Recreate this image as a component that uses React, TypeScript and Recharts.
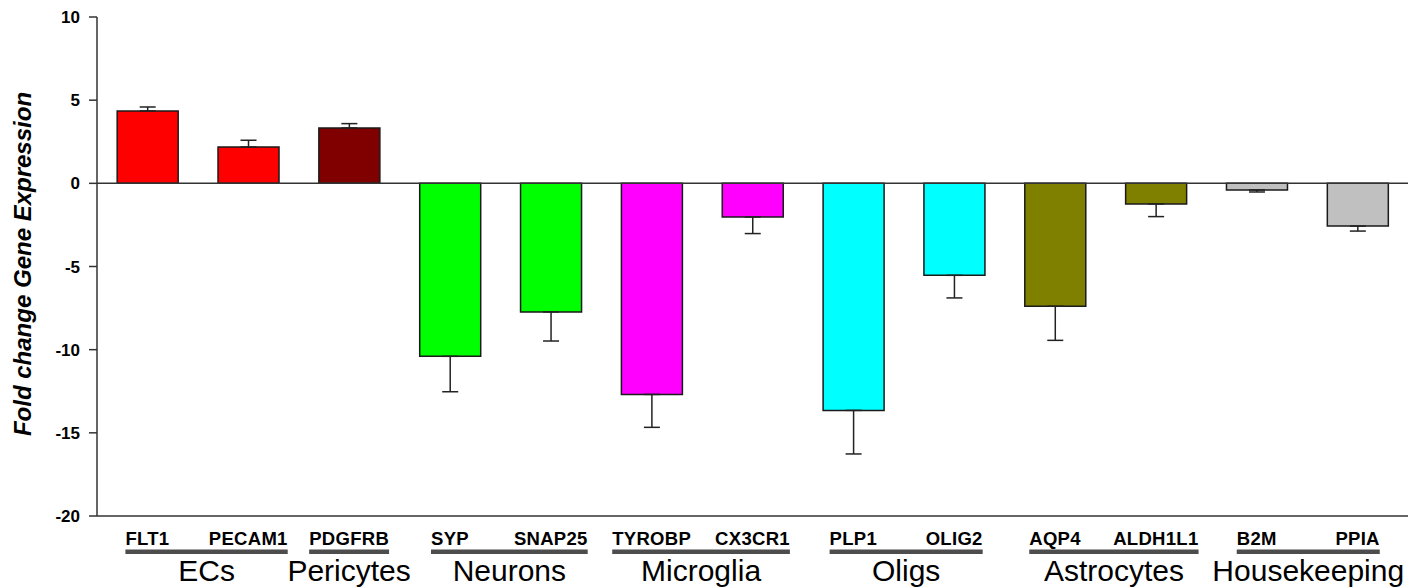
import { BarChart, Bar, Cell, ErrorBar, XAxis, YAxis, ReferenceLine } from "recharts";

const genes = ["FLT1", "PECAM1", "PDGFRB", "SYP", "SNAP25", "TYROBP", "CX3CR1", "PLP1", "OLIG2", "AQP4", "ALDH1L1", "B2M", "PPIA"];
const foldChange = [4.35, 2.18, 3.33, -10.4, -7.73, -12.69, -2.02, -13.65, -5.53, -7.39, -1.24, -0.4, -2.57];
const sem = [0.24, 0.41, 0.26, 2.13, 1.75, 1.98, 1.0, 2.62, 1.36, 2.05, 0.76, 0.12, 0.3];
const barColors = ["#ff0000", "#ff0000", "#800000", "#00ff00", "#00ff00", "#ff00ff", "#ff00ff", "#00ffff", "#00ffff", "#808000", "#808000", "#c0c0c0", "#c0c0c0"];
const groupNames = ["ECs", "Pericytes", "Neurons", "Microglia", "Oligs", "Astrocytes", "Housekeeping"];
const groupSizes = [2, 1, 2, 2, 2, 2, 2];
const yTicks = [-20, -15, -10, -5, 0, 5, 10];

const W = 1424;
const H = 588;
const MARGIN = { top: 17, right: 16, left: 0, bottom: 0 };
const Y_AXIS_W = 97;
const BAND = (W - MARGIN.left - MARGIN.right - Y_AXIS_W) / genes.length;
const FONT = "'Liberation Sans', Arial, sans-serif";

// error bars only point away from zero
const data = genes.map((g, i) => ({
  gene: g,
  value: foldChange[i],
  err: foldChange[i] >= 0 ? [0, sem[i]] : [sem[i], 0],
}));

// index of first gene in each group
const groupStarts: number[] = [];
groupSizes.reduce((acc, n) => {
  groupStarts.push(acc);
  return acc + n;
}, 0);

let ctx: CanvasRenderingContext2D | null = null;
function geneWidth(s: string) {
  if (!ctx) ctx = document.createElement("canvas").getContext("2d");
  if (!ctx) return s.length * 11;
  ctx.font = `bold 18.5px ${FONT}`;
  return ctx.measureText(s).width + s.length * 0.3;
}

function GeneTick(props: any) {
  const { x, y, payload } = props;
  const i = genes.indexOf(payload.value);
  const gi = groupStarts.indexOf(i);
  let group = null;
  if (gi >= 0) {
    const last = i + groupSizes[gi] - 1;
    const x0 = x - geneWidth(genes[i]) / 2;
    const x1 = x + (last - i) * BAND + geneWidth(genes[last]) / 2;
    group = (
      <g>
        <rect x={x0} y={y + 33.5} width={x1 - x0} height={4.5} fill="#4d4d4d" />
        <text
          x={(x0 + x1) / 2}
          y={y + 65}
          textAnchor="middle"
          fontFamily={FONT}
          fontSize={30}
          fill="#000"
        >
          {groupNames[gi]}
        </text>
      </g>
    );
  }
  return (
    <g>
      <text
        x={x}
        y={y + 29}
        textAnchor="middle"
        fontFamily={FONT}
        fontWeight="bold"
        fontSize={18.5}
        letterSpacing={0.3}
        fill="#000"
      >
        {payload.value}
      </text>
      {group}
    </g>
  );
}

function ValueTick(props: any) {
  const { x, y, payload } = props;
  return (
    <text
      x={x}
      y={y}
      dy="0.36em"
      textAnchor="end"
      fontFamily={FONT}
      fontWeight="bold"
      fontSize={17}
      fill="#000"
    >
      {payload.value}
    </text>
  );
}

export default function App() {
  return (
    <div style={{ position: "absolute", left: 0, top: 0, background: "#fff" }}>
      <BarChart width={W} height={H} data={data} margin={MARGIN} barCategoryGap="20%">
        <XAxis
          dataKey="gene"
          height={72}
          interval={0}
          tickLine={false}
          tickSize={0}
          tickMargin={0}
          axisLine={{ stroke: "#333", strokeWidth: 1.5 }}
          tick={<GeneTick />}
        />
        <YAxis
          width={Y_AXIS_W}
          domain={[-20, 10]}
          ticks={yTicks}
          interval={0}
          tickSize={8}
          tickMargin={9}
          axisLine={{ stroke: "#333", strokeWidth: 1.5 }}
          tickLine={{ stroke: "#333", strokeWidth: 1.5 }}
          tick={<ValueTick />}
          label={{
            content: () => (
              <text
                x={31}
                y={264}
                transform="rotate(-90, 31, 264)"
                textAnchor="middle"
                fontFamily={FONT}
                fontWeight="bold"
                fontStyle="italic"
                fontSize={24}
                fill="#000"
              >
                Fold change Gene Expression
              </text>
            ),
          }}
        />
        <Bar dataKey="value" stroke="#1a1a1a" strokeWidth={1.5} isAnimationActive={false}>
          {data.map((d, i) => (
            <Cell key={d.gene} fill={barColors[i]} />
          ))}
          <ErrorBar dataKey="err" width={8} stroke="#222" strokeWidth={1.5} />
        </Bar>
        <ReferenceLine y={0} stroke="#333" strokeWidth={1.5} />
      </BarChart>
    </div>
  );
}
